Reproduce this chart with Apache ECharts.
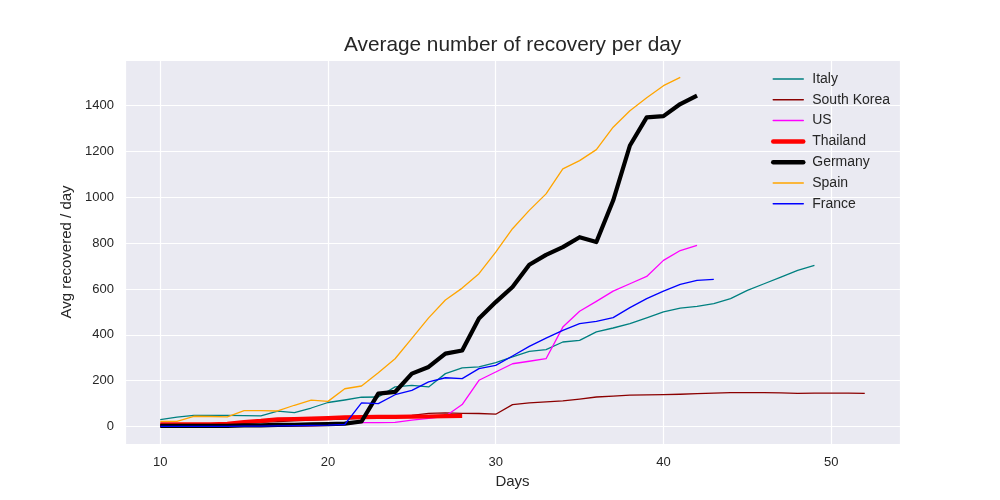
<!DOCTYPE html>
<html>
<head>
<meta charset="utf-8">
<script src="https://cdn.jsdelivr.net/npm/echarts@6/dist/echarts.min.js"></script>
<style>html,body{margin:0;padding:0;background:#fff}#c{width:1000px;height:500px}</style>
</head>
<body>
<div id="c"></div>
<script>
const countries = ["Italy", "South Korea", "US", "Thailand", "Germany", "Spain", "France"];
const startDay = 10;
const italy = [30,41,49,49,49,48,47,67,61,81,105,116,128,129,173,180,173,231,256,260,279,304,328,336,369,376,413,430,449,474,500,517,524,536,558,594,623,652,681,703];
const southKorea = [5,6,8,10,12,15,18,22,25,28,30,33,36,40,43,49,58,60,58,57,54,96,103,108,112,120,129,133,137,138,139,141,144,146,148,148,148,147,145,146,146,146,145];
const us = [1,1,1,1,1,2,2,2,3,3,5,10,17,17,18,28,36,45,96,202,238,274,285,296,434,503,546,591,623,655,725,768,790];
const thailand = [10,10,10,10,12,20,25,32,33,35,37,40,41,42,42,43,44,46,47];
const germany = [3,3,3,3,3,5,5,7,8,10,11,13,22,144,151,231,260,318,332,471,543,609,706,749,783,826,805,986,1226,1349,1354,1407,1444];
const spain = [23,23,45,44,42,70,70,68,93,115,110,165,177,235,296,385,474,552,604,667,761,863,943,1015,1124,1160,1208,1306,1378,1434,1487,1523];
const france = [1,1,1,1,1,2,2,3,4,5,6,9,103,100,139,158,195,213,209,253,267,308,350,386,420,449,459,475,519,558,591,620,638,642];

const values = [italy, southKorea, us, thailand, germany, spain, france];
const colors = ["#008080", "#8B0000", "#FF00FF", "#FF0000", "#000000", "#FFA500", "#0000FF"];
const widths = [1.3, 1.3, 1.3, 4.2, 4.2, 1.3, 1.3];

const txt = "#262626";
const font = "Liberation Sans";

const series = countries.map((name, i) => ({
  name: name,
  type: "line",
  data: values[i].map((v, k) => [startDay + k, v]),
  symbol: "none",
  showSymbol: false,
  animation: false,
  lineStyle: { color: colors[i], width: widths[i], join: "round", cap: "butt" },
  itemStyle: { color: colors[i] },
  emphasis: { disabled: true },
  z: 2 + i
}));

const chart = echarts.init(document.getElementById("c"), null, { renderer: "canvas" });
chart.setOption({
  animation: false,
  backgroundColor: "#ffffff",
  title: {
    text: "Average number of recovery per day",
    left: 344, top: 35, padding: 0,
    textStyle: { fontFamily: font, fontSize: 20.8, fontWeight: "normal", color: txt }
  },
  legend: {
    orient: "vertical",
    left: 771, top: 72,
    padding: 0,
    itemWidth: 30, itemHeight: 14, itemGap: 6.8,
    itemStyle: { opacity: 0 },
    textStyle: { fontFamily: font, fontSize: 14, color: txt, lineHeight: 14, padding: [0, 0, 0, 4] },
    data: countries.map((n, i) => ({
      name: n,
      lineStyle: { color: colors[i], width: widths[i] > 2 ? 4.5 : 1.5, cap: "round" }
    }))
  },
  grid: { left: 125, right: 100, top: 60, bottom: 56, containLabel: false, backgroundColor: "#EAEAF2", show: true, borderWidth: 0 },
  xAxis: {
    type: "value",
    min: 7.9, max: 54.1,
    minInterval: 10, maxInterval: 10,
    name: "Days",
    nameLocation: "middle",
    nameGap: 29,
    nameTextStyle: { fontFamily: font, fontSize: 15, color: txt },
    axisLine: { show: false },
    axisTick: { show: false },
    axisLabel: { fontFamily: font, fontSize: 13, color: txt, margin: 12, showMinLabel: false, showMaxLabel: false },
    splitLine: { show: true, lineStyle: { color: "#ffffff", width: 1.2 } }
  },
  yAxis: {
    type: "value",
    min: -76, max: 1599,
    minInterval: 200, maxInterval: 200,
    name: "Avg recovered / day",
    nameLocation: "middle",
    nameGap: 48,
    nameTextStyle: { fontFamily: font, fontSize: 15, color: txt },
    axisLine: { show: false },
    axisTick: { show: false },
    axisLabel: { fontFamily: font, fontSize: 13, color: txt, margin: 11, showMinLabel: false, showMaxLabel: false, formatter: (v) => String(v) },
    splitLine: { show: true, lineStyle: { color: "#ffffff", width: 1.2 } }
  },
  series: series
});
</script>
</body>
</html>
